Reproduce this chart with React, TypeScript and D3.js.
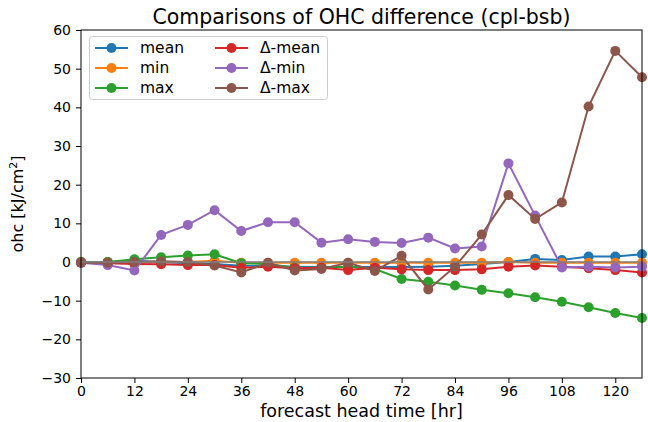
import React, { useEffect, useRef } from 'react';
import * as d3 from 'd3';

const hours = [0, 6, 12, 18, 24, 30, 36, 42, 48, 54, 60, 66, 72, 78, 84, 90, 96, 102, 108, 114, 120, 126];

const meanVals = [0, 0, 0.3, 0, -0.3, -0.5, -1, -1, -1.2, -1.3, -1.3, -1.3, -1.3, -1.2, -1, -0.5, 0, 0.8, 0.5, 1.4, 1.4, 2.0];
const minVals = [0, 0, 0, 0, 0, 0.3, -0.2, -0.2, -0.2, -0.2, -0.2, -0.2, -0.2, -0.2, -0.2, -0.2, 0, -0.2, -0.2, -0.2, -0.2, -0.2];
const maxVals = [0, 0, 0.7, 1.2, 1.7, 2.0, -0.3, -0.5, -1.5, -1.5, -1.2, -1.8, -4.4, -5.1, -6.1, -7.2, -8.1, -9.1, -10.3, -11.7, -13.2, -14.5];
const dMeanVals = [-0.2, -0.3, -0.5, -0.6, -0.8, -0.8, -1.5, -1.2, -1.6, -1.5, -2.1, -1.5, -1.9, -2.1, -2.1, -1.9, -1.2, -0.9, -1.2, -1.6, -2.1, -2.7];
const dMinVals = [-0.2, -0.8, -2.2, 7.0, 9.6, 13.4, 8.0, 10.3, 10.3, 5.0, 5.9, 5.2, 4.9, 6.3, 3.5, 4.0, 25.5, 12.0, -1.4, -1.2, -1.4, -1.2];
const dMaxVals = [-0.2, -0.2, 0, 0.2, 0, -0.9, -2.7, -0.2, -2.2, -1.8, -0.2, -2.3, 1.6, -7.1, -1.2, 7.1, 17.3, 11.1, 15.4, 40.2, 54.6, 47.8];

const seriesNames = ['mean', 'min', 'max', 'Δ-mean', 'Δ-min', 'Δ-max'];
const seriesColors = ['#1f77b4', '#ff7f0e', '#2ca02c', '#d62728', '#9467bd', '#8c564b'];
const seriesValues = [meanVals, minVals, maxVals, dMeanVals, dMinVals, dMaxVals];

const xTicks = [0, 12, 24, 36, 48, 60, 72, 84, 96, 108, 120];
const yTicks = [-30, -20, -10, 0, 10, 20, 30, 40, 50, 60];

const W = 648;
const H = 422;
const margin = { left: 81, top: 30, right: 6, bottom: 44 };
const font = 'DejaVu Sans, sans-serif';
const dot = 5;

export default function App() {
  const ref = useRef<SVGSVGElement>(null);

  useEffect(() => {
    const svg = d3.select(ref.current);
    svg.selectAll('*').remove();

    const x = d3.scaleLinear().domain([0, 126]).range([margin.left, W - margin.right]);
    const y = d3.scaleLinear().domain([-30, 60]).range([H - margin.bottom, margin.top]);

    svg.append('rect').attr('width', W).attr('height', H).attr('fill', '#fff');

    const xAxis = svg
      .append('g')
      .attr('transform', `translate(0,${H - margin.bottom})`)
      .call(d3.axisBottom(x).tickValues(xTicks).tickSize(5).tickPadding(3).tickFormat(d3.format('d')));
    xAxis.select('.domain').remove();
    xAxis.selectAll('text').attr('font-size', 14).attr('font-family', font).attr('fill', '#000');

    const yAxis = svg
      .append('g')
      .attr('transform', `translate(${margin.left},0)`)
      .call(d3.axisLeft(y).tickValues(yTicks).tickSize(5).tickPadding(5).tickFormat(d => (+d < 0 ? '\u2212' + Math.abs(+d) : String(d))));
    yAxis.select('.domain').remove();
    yAxis.selectAll('text').attr('font-size', 14).attr('font-family', font).attr('fill', '#000');

    const plot = svg.append('g');
    const line = d3
      .line<number>()
      .x((_, i) => x(hours[i]))
      .y(d => y(d));

    seriesValues.forEach((vals, k) => {
      plot
        .append('path')
        .datum(vals)
        .attr('d', line)
        .attr('fill', 'none')
        .attr('stroke', seriesColors[k])
        .attr('stroke-width', 2);
      plot
        .selectAll(null)
        .data(vals)
        .enter()
        .append('circle')
        .attr('cx', (_, i) => x(hours[i]))
        .attr('cy', d => y(d))
        .attr('r', dot)
        .attr('fill', seriesColors[k]);
    });

    // zero reference line
    plot
      .append('line')
      .attr('x1', x(0))
      .attr('x2', x(126))
      .attr('y1', y(0))
      .attr('y2', y(0))
      .attr('stroke', '#7f7f7f')
      .attr('stroke-width', 1.5);

    svg
      .append('rect')
      .attr('x', margin.left)
      .attr('y', margin.top)
      .attr('width', W - margin.left - margin.right)
      .attr('height', H - margin.top - margin.bottom)
      .attr('fill', 'none')
      .attr('stroke', '#000')
      .attr('stroke-width', 1);

    // legend
    const lg = svg.append('g');
    lg.append('rect')
      .attr('x', 89.5)
      .attr('y', 36.5)
      .attr('width', 238)
      .attr('height', 63)
      .attr('rx', 3)
      .attr('fill', '#fff')
      .attr('fill-opacity', 0.8)
      .attr('stroke', '#ccc');
    seriesNames.forEach((name, k) => {
      const col = Math.floor(k / 3);
      const row = k % 3;
      const lx = col === 0 ? 95 : 215;
      const ly = 48 + row * 20;
      lg.append('line')
        .attr('x1', lx)
        .attr('x2', lx + 33)
        .attr('y1', ly)
        .attr('y2', ly)
        .attr('stroke', seriesColors[k])
        .attr('stroke-width', 2);
      lg.append('circle').attr('cx', lx + 16.5).attr('cy', ly).attr('r', dot).attr('fill', seriesColors[k]);
      lg.append('text')
        .attr('x', lx + 45)
        .attr('y', ly)
        .attr('dy', '0.35em')
        .attr('font-size', 15.5)
        .attr('font-family', font)
        .text(name);
    });

    svg
      .append('text')
      .attr('x', (margin.left + W - margin.right) / 2)
      .attr('y', 24)
      .attr('text-anchor', 'middle')
      .attr('font-size', 20.5)
      .attr('font-family', font)
      .text('Comparisons of OHC difference (cpl-bsb)');

    svg
      .append('text')
      .attr('x', (margin.left + W - margin.right) / 2)
      .attr('y', 417)
      .attr('text-anchor', 'middle')
      .attr('font-size', 17.5)
      .attr('font-family', font)
      .text('forecast head time [hr]');

    const yl = svg
      .append('text')
      .attr('transform', `translate(23,${y(15)}) rotate(-90)`)
      .attr('text-anchor', 'middle')
      .attr('font-size', 16)
      .attr('font-family', font);
    yl.append('tspan').text('ohc [kJ/cm');
    yl.append('tspan').attr('font-size', 11).attr('dy', -6).text('2');
    yl.append('tspan').attr('dy', 6).text(']');
  }, []);

  return <svg ref={ref} width={W} height={H} style={{ position: 'absolute', left: 0, top: 0 }} />;
}
